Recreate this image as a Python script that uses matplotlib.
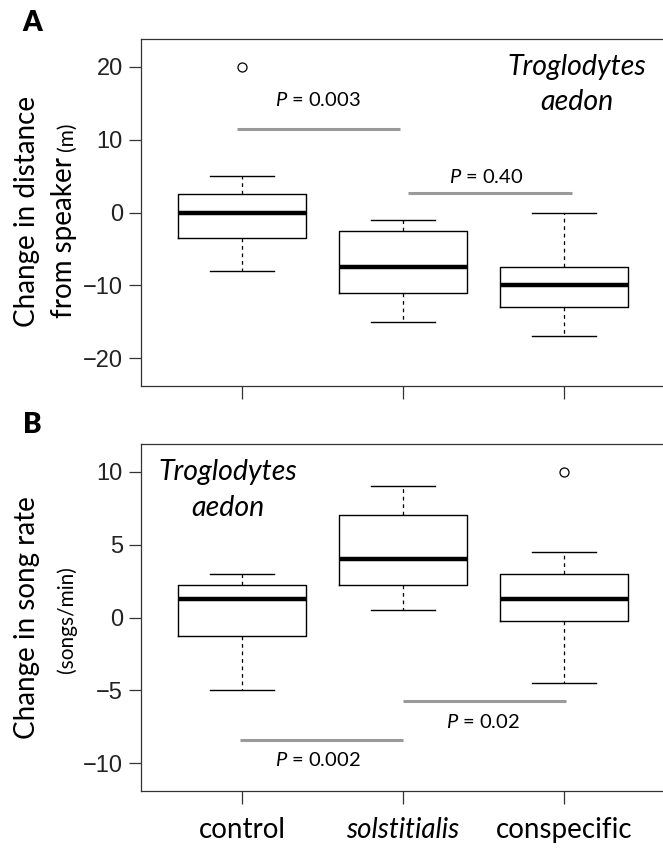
import matplotlib
matplotlib.use("Agg")
import matplotlib.pyplot as plt

plt.rcParams['mathtext.fontset'] = 'custom'
plt.rcParams['mathtext.it'] = 'Lato:italic'
plt.rcParams['mathtext.rm'] = 'Lato'

groups = ["control", "solstitialis", "conspecific"]

# panel A: change in distance from speaker (m)
a_whislo = [-8, -15, -17]
a_q1 = [-3.5, -11, -13]
a_med = [0, -7.5, -10]
a_q3 = [2.5, -2.5, -7.5]
a_whishi = [5, -1, 0]
a_fliers = [[20], [], []]

# panel B: change in song rate (songs/min)
b_whislo = [-5, 0.5, -4.5]
b_q1 = [-1.25, 2.25, -0.25]
b_med = [1.25, 4, 1.25]
b_q3 = [2.25, 7, 3]
b_whishi = [3, 9, 4.5]
b_fliers = [[], [], [10]]

# significance bars: (x start, x end, y, label, text x, text y)
a_sig = [(0.97, 1.98, 11.5, "$P$ = 0.003", 1.47, 15.4),
         (2.03, 3.05, 2.7, "$P$ = 0.40", 2.52, 4.9)]
b_sig = [(0.99, 2.0, -8.4, "$P$ = 0.002", 1.47, -9.8),
         (2.0, 3.01, -5.7, "$P$ = 0.02", 2.5, -7.2)]


def make_stats(lo, q1, med, q3, hi, fl):
    st = []
    for i in range(len(groups)):
        st.append(dict(whislo=lo[i], q1=q1[i], med=med[i], q3=q3[i],
                       whishi=hi[i], fliers=fl[i]))
    return st


def draw(ax, stats, sig, ylim, yticks):
    ax.bxp(stats, positions=[1, 2, 3], widths=0.8, capwidths=0.4,
           boxprops=dict(color="black", linewidth=1.0),
           medianprops=dict(color="black", linewidth=3.2),
           whiskerprops=dict(color="black", linewidth=0.9, linestyle=(0, (3, 3))),
           capprops=dict(color="black", linewidth=1.0),
           flierprops=dict(marker="o", markerfacecolor="none",
                           markeredgecolor="black", markersize=6.5, markeredgewidth=0.9))
    for x0, x1, y, lab, tx, ty in sig:
        ax.plot([x0, x1], [y, y], color="#9a9a9a", linewidth=2.2, solid_capstyle="butt")
        ax.text(tx, ty, lab, ha="center", va="center", fontsize=14.5, family="Lato")
    ax.set_xlim(0.373, 3.615)
    ax.set_ylim(*ylim)
    ax.set_yticks(yticks)
    ax.set_yticklabels(["\u2212" + str(abs(t)) if t < 0 else str(t) for t in yticks],
                       family="Liberation Sans", fontsize=17, color="#222222")
    ax.set_xticks([1, 2, 3])
    ax.tick_params(axis="both", length=9, width=0.9, color="#333333")
    ax.tick_params(axis="y", pad=4)
    ax.spines["right"].set_visible(False)
    for s in ["left", "top", "bottom"]:
        ax.spines[s].set_linewidth(0.9)
        ax.spines[s].set_color("#333333")


fig = plt.figure(figsize=(6.63, 8.49), dpi=100)
axA = fig.add_axes([0.2127, 0.5453, 0.7873, 0.4087])
axB = fig.add_axes([0.2127, 0.0683, 0.7873, 0.4087])

draw(axA, make_stats(a_whislo, a_q1, a_med, a_q3, a_whishi, a_fliers), a_sig,
     (-23.8, 23.8), [-20, -10, 0, 10, 20])
draw(axB, make_stats(b_whislo, b_q1, b_med, b_q3, b_whishi, b_fliers), b_sig,
     (-11.9, 11.9), [-10, -5, 0, 5, 10])

axA.set_xticklabels([])
axB.set_xticklabels(groups, family="Lato", fontsize=20)
axB.get_xticklabels()[1].set_style("italic")
axB.tick_params(axis="x", pad=10)

for ax, x, y1, y2 in [(axA, 3.08, 20, 15.1), (axB, 0.91, 10, 7.5)]:
    ax.text(x, y1, "Troglodytes", ha="center", va="center", style="italic",
            family="Lato", fontsize=20.5)
    ax.text(x, y2, "aedon", ha="center", va="center", style="italic",
            family="Lato", fontsize=20.5)

# y labels: first line, then second line with a smaller unit part
fig.text(27 / 663, 1 - 211 / 849, "Change in distance", rotation=90, ha="center",
         va="center", family="Lato", fontsize=20)
fig.text(27 / 663, 1 - 618 / 849, "Change in song rate", rotation=90, ha="center",
         va="center", family="Lato", fontsize=20)

t_from = fig.text(64 / 663, 1 - 318 / 849, "from speaker", rotation=90, ha="center",
                  va="bottom", family="Lato", fontsize=20)
fig.canvas.draw()
bb = t_from.get_window_extent()
fig.text(67 / 663, (bb.y1 + 6) / 849, "(m)", rotation=90, ha="center", va="bottom",
         family="Lato", fontsize=15)
fig.text(67 / 663, 1 - 620 / 849, "(songs/min)", rotation=90, ha="center",
         va="center", family="Lato", fontsize=15)

fig.text(32 / 663, 1 - 23 / 849, "A", ha="center", va="center", family="Lato",
         fontweight="heavy", fontsize=20)
fig.text(32 / 663, 1 - 425 / 849, "B", ha="center", va="center", family="Lato",
         fontweight="heavy", fontsize=20)

fig.savefig("out.png", dpi=100)
